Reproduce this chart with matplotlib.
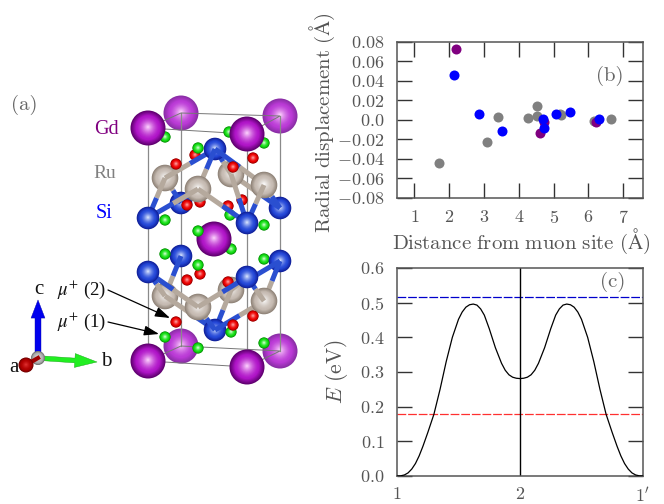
import numpy as np
import matplotlib
matplotlib.use('Agg')
import matplotlib.pyplot as plt
from matplotlib.patches import Circle, Polygon, FancyArrowPatch
from matplotlib.colors import to_rgb

plt.rcParams['mathtext.fontset'] = 'cm'
plt.rcParams['font.family'] = ['cmr10', 'DejaVu Serif']
plt.rcParams['axes.unicode_minus'] = False

# ---- panel (b) data
gray_x = [1.72, 3.09, 3.41, 4.26, 4.51, 4.51, 5.18, 5.20, 6.16, 6.65]
gray_y = [-0.0436, -0.0227, 0.0030, 0.0024, 0.0148, 0.0045, 0.0060, 0.0050, -0.0007, 0.0010]
purple_x = [2.19, 4.62, 4.72, 6.22]
purple_y = [0.0725, -0.0137, -0.0017, -0.0020]
blue_x = [2.15, 2.85, 3.52, 4.69, 4.72, 5.06, 5.46, 6.30]
blue_y = [0.0463, 0.0065, -0.0117, 0.0007, -0.0086, 0.0058, 0.0082, 0.0007]
b_xticks = [1, 2, 3, 4, 5, 6, 7]
b_yticks = [-0.08, -0.06, -0.04, -0.02, 0.0, 0.02, 0.04, 0.06, 0.08]

# ---- panel (c) data
path_x = [1.00, 1.03, 1.06, 1.09, 1.12, 1.15, 1.18, 1.21, 1.25, 1.30, 1.35, 1.40, 1.45, 1.50, 1.53,
          1.56, 1.59, 1.62, 1.65, 1.68, 1.71, 1.75, 1.80, 1.85, 1.88, 1.91, 1.94, 1.97, 2.00,
          2.03, 2.06, 2.09, 2.12, 2.15, 2.20, 2.25, 2.29, 2.32, 2.35, 2.38, 2.41, 2.44, 2.47,
          2.50, 2.55, 2.60, 2.65, 2.70, 2.75, 2.79, 2.82, 2.85, 2.88, 2.91, 2.94, 2.97, 3.00]
path_e = [0.000, 0.0005, 0.003, 0.009, 0.020, 0.036, 0.058, 0.085, 0.125, 0.178, 0.250, 0.330, 0.400, 0.452, 0.473,
          0.487, 0.494, 0.496, 0.493, 0.482, 0.464, 0.425, 0.370, 0.325, 0.305, 0.292, 0.285, 0.282, 0.281,
          0.282, 0.285, 0.292, 0.305, 0.325, 0.370, 0.425, 0.464, 0.482, 0.493, 0.496, 0.494, 0.487, 0.473,
          0.452, 0.400, 0.330, 0.250, 0.178, 0.125, 0.085, 0.058, 0.036, 0.020, 0.009, 0.003, 0.0005, 0.000]
level_blue = 0.515
level_red = 0.178
c_yticks = [0.0, 0.1, 0.2, 0.3, 0.4, 0.5, 0.6]
c_xticks = [1, 2, 3]
c_xlabels = ['$1$', '$2$', "$1'$"]

# ---- panel (a) crystal structure, projected positions and stacking depth
gd_x = [181, 280, 148, 247, 214, 181, 280, 148, 247]
gd_y = [113, 116, 128, 134, 239, 346, 351, 361, 367]
gd_d = [0, 0, 10, 10, 5, 0, 0, 10, 10]
gd_back = [1, 1, 0, 0, 0, 1, 1, 0, 0]
ru_x = [165, 198, 231, 264, 165, 198, 231, 264]
ru_y = [178, 189, 174, 185, 296, 307, 290, 301]
ru_d = [3.5, 6.5, 3.5, 6.5, 3.5, 6.5, 3.5, 6.5]
si_x = [215, 148, 181, 280, 247, 148, 181, 247, 280, 215]
si_y = [149, 218, 203, 208, 223, 272, 256, 277, 261, 330]
si_d = [5, 8, 2, 2, 8, 8, 2, 8, 2, 5]
mu1_x = [165, 229, 264, 198, 165, 230, 264, 198, 231, 165, 264, 198, 231, 165, 198, 264]
mu1_y = [137, 132, 143, 148, 220, 215, 225, 231, 249, 254, 259, 265, 332, 337, 348, 343]
mu1_d = [1, 1, 5, 7, 9, 5, 9, 7, 3, 3, 1, 7, 6, 9, 9, 9]
mu2_x = [176, 195, 233, 253, 187, 200, 242, 228, 187, 200, 228, 253, 233, 176]
mu2_y = [164, 155, 167, 158, 205, 202, 200, 206, 280, 274, 282, 316, 325, 322]
mu2_d = [7, 4, 7, 4, 7, 4, 4, 7, 6, 4, 7, 7, 8, 7]
# bonds: (Ru index, Si index)
bond_ru = [0, 0, 0, 1, 1, 1, 2, 2, 2, 3, 3, 3, 4, 4, 4, 5, 5, 5, 6, 6, 6, 7, 7, 7]
bond_si = [0, 1, 2, 0, 1, 4, 0, 3, 4, 0, 4, 3, 5, 6, 9, 5, 7, 9, 7, 9, 8, 8, 7, 9]

fig = plt.figure(figsize=(6.64, 5.04), dpi=100)
W, H = 664, 504


def px_axes(l, t, r, b):
    return fig.add_axes([l / W, 1 - b / H, (r - l) / W, (b - t) / H])


ov = fig.add_axes([0, 0, 1, 1])
ov.set_xlim(0, W)
ov.set_ylim(H, 0)
ov.axis('off')


def mix(c1, c2, t):
    a, b = np.array(to_rgb(c1)), np.array(to_rgb(c2))
    return tuple(a + (b - a) * t)


def ball(x, y, r, cols, z):
    edge, mid, core = cols
    n = 18
    for i in range(n):
        t = i / (n - 1)  # 0 outside -> 1 centre
        rr = r * (1 - t) + 0.4 * t
        if t < 0.3:
            c = mix(edge, mid, t / 0.3)
        else:
            c = mix(mid, core, ((t - 0.3) / 0.7) ** 1.5)
        ov.add_patch(Circle((x, y - 0.06 * r * t), rr, fc=c, ec='none', zorder=z + i * 1e-3))


GD = ('#600070', '#b014c8', '#ffd8ff')
GDB = ('#8a2ea6', '#bb3ad6', '#ffd8ff')
RU = ('#8f8378', '#c6bbb2', '#ffffff')
SI = ('#10209a', '#2448d8', '#dce8ff')
MU1 = ('#089008', '#12e012', '#d0ffd0')
MU2 = ('#980000', '#ee0000', '#ffa0a0')

for x, y, d, bk in zip(gd_x, gd_y, gd_d, gd_back):
    ball(x, y, 17.5, GDB if bk else GD, d)
for x, y, d in zip(ru_x, ru_y, ru_d):
    ball(x, y, 13.3, RU, d)
for x, y, d in zip(si_x, si_y, si_d):
    ball(x, y, 11.3, SI, d)
for x, y, d in zip(mu1_x, mu1_y, mu1_d):
    ball(x, y, 5.6, MU1, d)
for x, y, d in zip(mu2_x, mu2_y, mu2_d):
    ball(x, y, 5.6, MU2, d)

for ri, si in zip(bond_ru, bond_si):
    x0, y0, x1, y1 = ru_x[ri], ru_y[ri], si_x[si], si_y[si]
    mx, my = (x0 + x1) / 2, (y0 + y1) / 2
    z = (ru_d[ri] + si_d[si]) / 2 - 0.05
    ov.plot([x0, mx], [y0, my], color='#b5a99d', lw=3.6, solid_capstyle='butt', zorder=z)
    ov.plot([mx, x1], [my, y1], color='#2a4fd0', lw=3.6, solid_capstyle='butt', zorder=z)

# unit cell
for i, j in [(2, 7), (0, 5), (3, 8), (1, 6)]:
    ov.plot([gd_x[i], gd_x[j]], [gd_y[i], gd_y[j]], color='#8a8a8a', lw=0.9, zorder=0.5)
for idx in ([0, 1, 3, 2], [5, 6, 8, 7]):
    ov.add_patch(Polygon([(gd_x[i], gd_y[i]) for i in idx], closed=True, fc='none', ec='#777777',
                         lw=0.7, zorder=0.5))

serif = ['Liberation Serif']
ov.text(24, 105, '(a)', color='#666666', fontsize=15, ha='center', va='center')
ov.text(106, 129, 'Gd', color='#800080', fontsize=14.5, family=serif, ha='center', va='center')
ov.text(105, 173, 'Ru', color='#808080', fontsize=14, family=serif, ha='center', va='center')
ov.text(104, 214, 'Si', color='#0000ff', fontsize=14.5, family=serif, ha='center', va='center')

# orientation triad
ov.add_patch(FancyArrowPatch((38, 358), (38, 300), arrowstyle='simple,head_width=10,head_length=13,tail_width=4.3',
                             mutation_scale=1, fc='#0000ee', ec='#0000aa', lw=0.3, shrinkA=0, shrinkB=0, zorder=20))
ov.add_patch(FancyArrowPatch((38, 358), (97, 362), arrowstyle='simple,head_width=10,head_length=16,tail_width=3.4',
                             mutation_scale=1, fc='#22ee22', ec='#10a010', lw=0.3, shrinkA=0, shrinkB=0, zorder=20))
ball(26, 365, 7.5, ('#700000', '#b00000', '#e03030'), 22.5)
ov.plot([26, 38], [365, 358], color='#a00000', lw=3, zorder=22.4)
ball(38, 358, 7, ('#707070', '#b0b0b0', '#f4f4f4'), 22)
ov.text(39, 290, 'c', family=serif, fontsize=15, ha='center', va='center', color='#111111')
ov.text(106, 362, 'b', family=serif, fontsize=15, ha='center', va='center', color='#111111')
ov.text(14, 368, 'a', family=serif, fontsize=15, ha='center', va='center', color='#111111')

ov.text(82, 290, r'$\mu^{+}$ (2)', family=serif, fontsize=13.5, ha='center', va='center', color='#111111',
        math_fontfamily='stix')
ov.text(82, 322, r'$\mu^{+}$ (1)', family=serif, fontsize=13.5, ha='center', va='center', color='#111111',
        math_fontfamily='stix')
for start, end in [((108, 290), (170, 318)), ((108, 322), (159, 334))]:
    ov.add_patch(FancyArrowPatch(start, end, arrowstyle='-|>,head_width=3,head_length=9', mutation_scale=1,
                                 fc='black', ec='black', lw=0.9, shrinkA=0, shrinkB=0, zorder=30))

GR = '#555555'


def style(ax, ticklen=10.5):
    for s in ax.spines.values():
        s.set_color(GR)
        s.set_linewidth(1.1)
    ax.tick_params(direction='in', length=ticklen, width=1.0, color='#333333', labelcolor=GR, labelsize=13)


# panel (b)
ab = px_axes(397, 42, 643, 198)
ab.scatter(gray_x, gray_y, s=52, color='#808080', zorder=3, linewidths=0)
ab.scatter(purple_x, purple_y, s=52, color='#800080', zorder=4, linewidths=0)
ab.scatter(blue_x, blue_y, s=52, color='#0000ff', zorder=5, linewidths=0)
ab.set_xlim(0.5, 7.57)
ab.set_ylim(-0.08, 0.08)
ab.set_xticks(b_xticks)
ab.set_xticklabels(['$%d$' % v for v in b_xticks])
ab.set_yticks(b_yticks)
ab.set_yticklabels(['$%.2f$' % v if v != 0 else '$0.0$' for v in b_yticks])
style(ab)
ab.tick_params(top=True, right=True)
ab.tick_params(axis='y', pad=9)
ab.tick_params(axis='x', pad=8)
ab.text(610, 76, '(b)', transform=ov.transData, color='#666666', fontsize=15, ha='center', va='center')
ov.text(521, 241, r'$\mathrm{Distance\ from\ muon\ site\ (\AA)}$', color=GR, fontsize=15, ha='center', va='center')
ov.text(322, 123, r'$\mathrm{Radial\ displacement\ (\AA)}$', color=GR, fontsize=15, rotation=90,
        ha='center', va='center')

# panel (c)
ac = px_axes(397, 268, 643, 476)
ac.plot(path_x, path_e, color='black', lw=0.9, zorder=3)
ac.axhline(level_blue, color='#0000cc', lw=0.9, dashes=(7, 1.5), zorder=2)
ac.axhline(level_red, color='#ff3030', lw=0.9, dashes=(7, 1.5), zorder=2)
ac.axvline(2, color='black', lw=1.0, zorder=2)
ac.set_xlim(1, 3)
ac.set_ylim(0, 0.6)
ac.set_xticks(c_xticks)
ac.set_xticklabels(c_xlabels)
ac.set_yticks(c_yticks)
ac.set_yticklabels(['$%.1f$' % v for v in c_yticks])
style(ac)
ac.tick_params(axis='y', right=True, pad=9)
ac.tick_params(axis='x', length=0, pad=7)
ac.text(613, 282, '(c)', transform=ov.transData, color='#666666', fontsize=15, ha='center', va='center')
ov.text(337, 372, r'$E\ \mathrm{(eV)}$', color=GR, fontsize=15.5, rotation=90, ha='center', va='center')

fig.savefig('out.png', dpi=100)
